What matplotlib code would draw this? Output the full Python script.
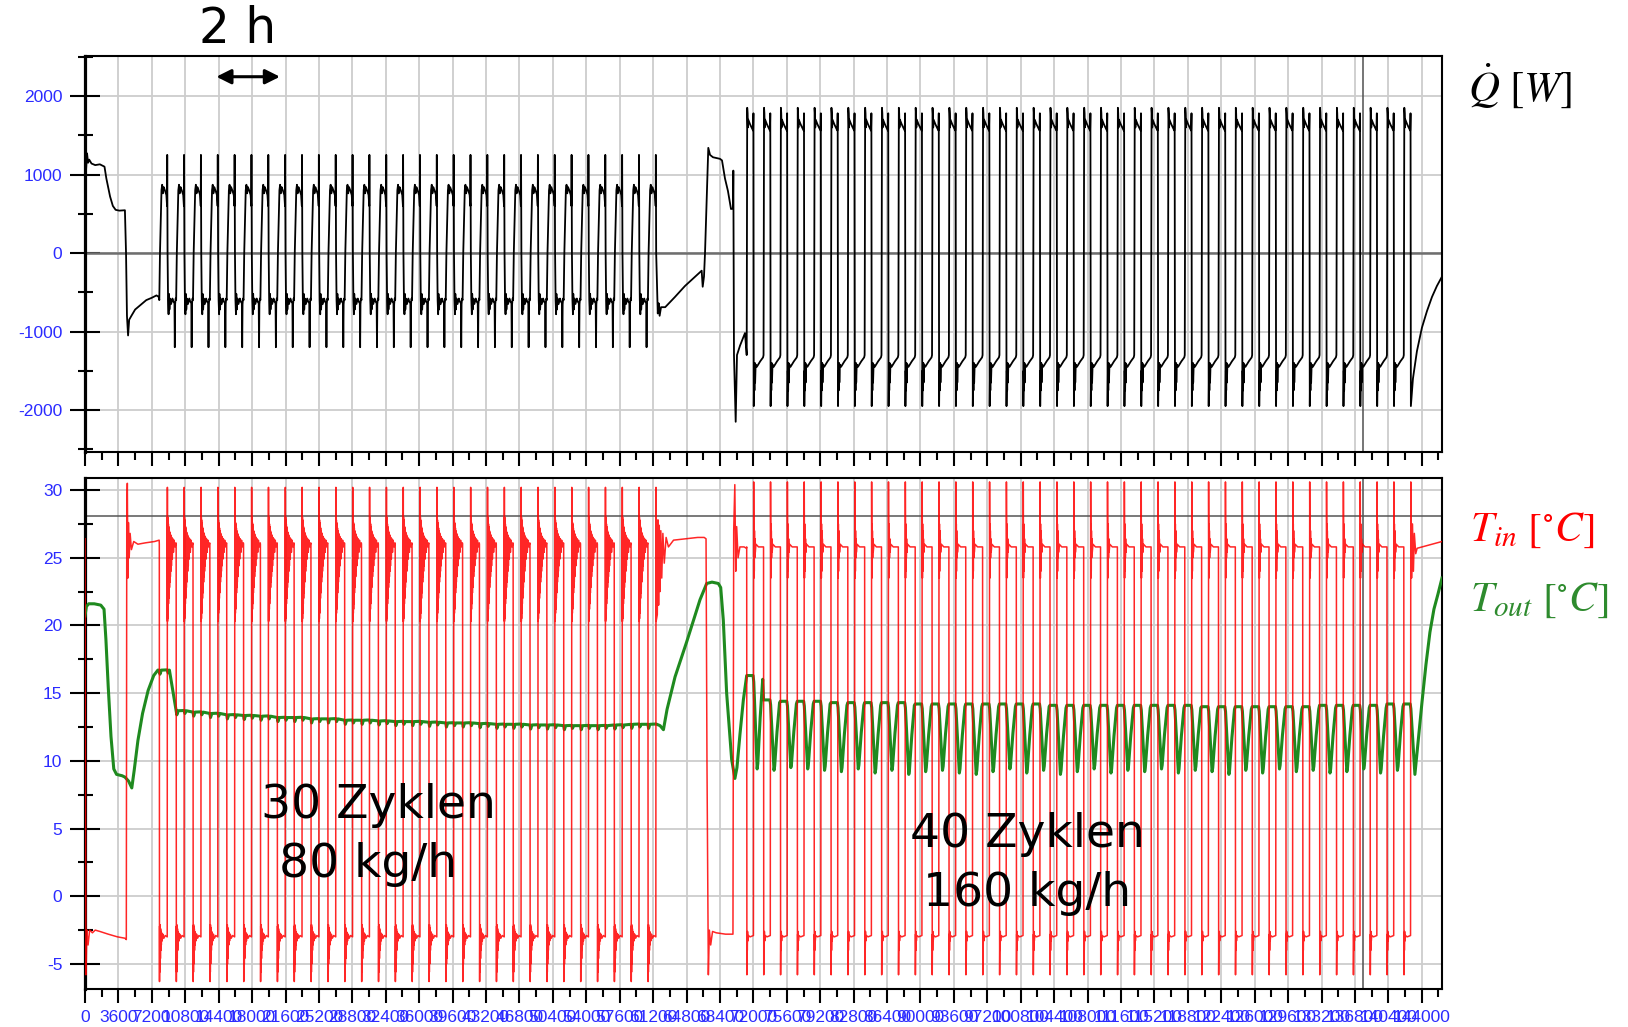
import matplotlib
matplotlib.use('Agg')
import matplotlib.pyplot as plt
import numpy as np

plt.rcParams['font.family'] = ['Liberation Sans', 'DejaVu Sans']
plt.rcParams['mathtext.fontset'] = 'stix'
plt.rcParams['axes.unicode_minus'] = False

# ---------------- data (time in s) ----------------
t_end = 146180
t_cursor = 137670
T_line = 28.1

# start-up before the first cycle series
q0_t = [0, 110, 220, 330, 450, 700, 1100, 1600, 2100, 2300, 2700, 3000, 3300, 3700, 4300,
        4420, 4520, 4640, 4760, 5000, 5400, 6000, 6600, 7200, 7700, 7950]
q0_v = [600, 1050, 1270, 1150, 1190, 1140, 1120, 1130, 1100, 950, 720, 600, 550, 540, 545,
        0, -800, -1050, -850, -800, -720, -660, -600, -570, -540, -560]
ti0_t = [0, 60, 110, 200, 330, 500, 800, 1100, 1600, 2500, 3500, 4300, 4450, 4500, 4560,
         4620, 4680, 4760, 4860, 5000, 5250, 5700, 6500, 7500, 7990]
ti0_v = [26.4, 5, -5.8, -2.5, -3.6, -2.5, -2.7, -2.5, -2.6, -2.8, -3.0, -3.1, -3.2, 28, 30.5,
         23.5, 27.6, 25, 26.8, 25.6, 26.2, 26.0, 26.1, 26.2, 26.3]
to0_t = [0, 150, 400, 1000, 1700, 2050, 2250, 2500, 2800, 3100, 3400, 4000, 4300, 4700, 5040,
         5300, 5700, 6200, 6800, 7400, 7850]
to0_v = [20.7, 21.4, 21.6, 21.6, 21.5, 21.2, 19.0, 15.5, 11.8, 9.4, 9.0, 8.9, 8.8, 8.5, 8.0,
         9.3, 11.5, 13.5, 15.2, 16.3, 16.7]

# 30 cycles, 80 kg/h
t1 = 8004
n1 = 30
period = 1815
cut1 = 0.49
q1_f = [0.00, 0.04, 0.13, 0.17, 0.21, 0.26, 0.33, 0.42, 0.46, 0.47, 0.49, 0.52, 0.55, 0.57,
        0.60, 0.64, 0.70, 0.78, 0.84, 0.90, 0.92, 0.94, 0.97]
q1_v = [-600, 0, 800, 870, 760, 840, 800, 740, 600, 1250, 0, -600, -780, -520,
        -720, -580, -650, -580, -620, -640, -1200, -650, -580]
ti1_f = [0.000, 0.012, 0.020, 0.028, 0.036, 0.045, 0.055, 0.066, 0.078, 0.090, 0.105, 0.12,
         0.14, 0.17, 0.21, 0.27, 0.35, 0.47,
         0.480, 0.487, 0.494, 0.501, 0.508, 0.515, 0.522, 0.530, 0.538, 0.546, 0.555, 0.564,
         0.574, 0.584, 0.595, 0.606, 0.618, 0.630, 0.643, 0.656, 0.670, 0.685, 0.70, 0.72,
         0.74, 0.77, 0.80, 0.84, 0.88, 0.93, 0.99]
ti1_v = [26.0, -6.3, -2.2, -5.6, -2.1, -5.0, -2.3, -4.6, -2.4, -4.0, -2.6, -3.6,
         -2.7, -3.3, -2.8, -3.1, -2.9, -3.0,
         30.2, 20.3, 28.0, 20.5, 27.8, 20.9, 27.6, 21.2, 27.5, 21.6, 27.3, 22.0,
         27.2, 22.4, 27.0, 22.8, 26.9, 23.2, 26.8, 23.6, 26.7, 24.0, 26.6, 24.4,
         26.5, 24.9, 26.4, 25.4, 26.3, 25.8, 26.1]
to1_f = [0.0, 0.04, 0.12, 0.48, 0.52, 0.60]
to1_d = [0.0, -0.3, 0.0, 0.02, -0.2, 0.0]
to1_level = [16.7, 13.7, 13.6, 13.5, 13.4, 13.35, 13.3, 13.2, 13.2, 13.1, 13.1, 13.0, 13.0,
             12.95, 12.9, 12.9, 12.85, 12.8, 12.8, 12.75, 12.7, 12.7, 12.65, 12.65, 12.6,
             12.6, 12.6, 12.65, 12.7, 12.7]

# pause between the two cycle series
iq_t = [61700, 61800, 61900, 62050, 62500, 63550, 64630, 66430, 66540, 66680, 66790, 67143,
        67330, 67650, 68400, 68620, 68940, 69260, 69590, 69800, 69840, 69910, 70094, 70234,
        70560, 71095]
iq_v = [-770, -640, -800, -690, -690, -560, -420, -225, -430, -300, 0, 1340,
        1250, 1220, 1200, 1180, 950, 790, 560, 570, 1050, -1300, -2150, -1300,
        -1180, -1020]
ii_t = [61650, 61720, 61790, 61860, 61940, 62030, 62130, 62250, 62400, 62600, 62850, 63400,
        66000, 66700, 66900, 67000, 67150, 67260, 67400, 67600, 68000, 69000, 69800, 69880,
        70000, 70100, 70200, 70350, 70550, 71000, 71250]
ii_v = [20.8, 27.8, 21.5, 27.4, 22.5, 27.0, 23.5, 26.8, 24.6, 26.5, 25.8, 26.3,
        26.5, 26.5, 26.4, 10, -5.8, -2.5, -3.6, -2.6, -2.7, -2.8, -2.8, 27,
        30.4, 24, 27.3, 25.0, 25.8, 25.8, 25.7]
io_t = [61600, 61950, 62310, 62700, 63560, 64820, 66250, 66970, 67540, 68220, 68480, 68760,
        69120, 69660, 70010, 70230, 70560, 70920]
io_v = [12.7, 12.6, 12.3, 13.8, 16.2, 18.8, 21.9, 23.1, 23.2, 23.1, 22.8, 20.4,
        15.0, 10.1, 8.7, 9.5, 12.0, 14.5]

# 40 cycles, 160 kg/h
t2 = 71280
n2 = 40
cut2 = 0.42
q2_f = [0.00, 0.03, 0.05, 0.07, 0.09, 0.20, 0.38, 0.40, 0.42, 0.44, 0.46, 0.48, 0.50, 0.53,
        0.60, 0.80, 0.97]
q2_v = [-1300, 1850, 1780, 1600, 1700, 1640, 1560, 1780, -1950, -1500, -1750, -1400, -1650,
        -1420, -1450, -1380, -1330]
ti2_f = [0.000, 0.012, 0.025, 0.035, 0.05, 0.07, 0.10, 0.20, 0.40, 0.415, 0.43, 0.44, 0.45,
         0.46, 0.475, 0.49, 0.51, 0.55, 0.70, 0.90, 0.99]
ti2_v = [25.8, -5.8, -2.8, -4.0, -2.6, -3.3, -2.9, -3.0, -2.9, 30.6, 23.5, 27.5, 24.0,
         27.0, 25.0, 26.4, 25.4, 26.0, 25.8, 25.8, 25.8]
to2_f = [0.0, 0.38, 0.42, 0.62, 0.66, 0.80, 0.95]
to2_w = [1.0, 1.0, 0.93, 0.0, 0.06, 0.55, 0.96]
to2_top = [16.3, 14.5, 14.4, 14.4, 14.4, 14.3, 14.3, 14.3, 14.3, 14.3, 14.2, 14.2, 14.2, 14.2,
           14.2, 14.2, 14.2, 14.2, 14.1, 14.1, 14.1, 14.1, 14.1, 14.1, 14.1, 14.1, 14.1, 14.0,
           14.0, 14.0, 14.0, 14.0, 14.0, 14.0, 14.1, 14.1, 14.1, 14.1, 14.2, 14.2]
to2_bot = [9.4, 9.3, 9.5, 9.4, 9.3, 9.2, 9.4, 9.1, 9.3, 9.0, 9.2, 9.3, 9.1, 9.0, 9.2, 9.4,
           9.1, 9.3, 9.0, 9.2, 9.4, 9.1, 9.3, 9.2, 9.4, 9.1, 9.3, 9.2, 9.0, 9.3, 9.1, 9.4,
           9.2, 9.3, 9.1, 9.2, 9.4, 9.1, 9.3, 9.0]

# after the last cycle
eq_t = [143050, 143480, 144020, 144560, 145100, 145630, 146180]
eq_v = [-1600, -1250, -950, -740, -560, -420, -300]
ei_t = [142900, 143000, 143100, 143200, 143350, 143500, 146180]
ei_v = [23.5, 27.5, 24.0, 26.8, 25.3, 25.7, 26.2]
eo_t = [143260, 143590, 144020, 144450, 144880, 145310, 145740, 146180]
eo_v = [9.0, 11.3, 14.3, 17.1, 19.5, 21.2, 22.3, 23.5]


def run_cycles(t0, n, f, vals, cut):
    ts, vs = [], []
    for k in range(n):
        for fi, vi in zip(f, vals(k)):
            if k == n - 1 and fi > cut:
                break
            ts.append(t0 + (k + fi) * period)
            vs.append(vi)
    return ts, vs


def series(parts):
    t = np.concatenate([np.asarray(p[0], float) for p in parts])
    v = np.concatenate([np.asarray(p[1], float) for p in parts])
    return t, v


q_t, q_v = series([(q0_t, q0_v),
                   run_cycles(t1, n1, q1_f, lambda k: q1_v, cut1),
                   (iq_t, iq_v),
                   run_cycles(t2, n2, q2_f, lambda k: q2_v, cut2),
                   (eq_t, eq_v)])
ti_t, ti_v = series([(ti0_t, ti0_v),
                     run_cycles(t1, n1, ti1_f, lambda k: ti1_v, cut1),
                     (ii_t, ii_v),
                     run_cycles(t2, n2, ti2_f, lambda k: ti2_v, cut2),
                     (ei_t, ei_v)])
to_t, to_v = series([(to0_t, to0_v),
                     run_cycles(t1, n1, to1_f, lambda k: [to1_level[k] + d for d in to1_d], cut1),
                     (io_t, io_v),
                     run_cycles(t2, n2, to2_f,
                                lambda k: [to2_bot[k] + w * (to2_top[k] - to2_bot[k]) for w in to2_w],
                                cut2),
                     (eo_t, eo_v)])

# ---------------- figure ----------------
W, H = 1628, 1027
fig = plt.figure(figsize=(W / 100, H / 100), dpi=100)
ax1 = fig.add_axes([85 / W, 1 - 452 / H, 1357 / W, 396 / H])
ax2 = fig.add_axes([85 / W, 1 - 989 / H, 1357 / W, 511 / H])

tick_blue = '#2b2bff'
major_x = np.arange(0, t_end, 3600)
minor_x = np.arange(1800, t_end, 3600)

for ax in (ax1, ax2):
    ax.set_xlim(0, t_end)
    ax.set_xticks(major_x)
    ax.set_xticks(minor_x, minor=True)
    ax.grid(True, which='major', color='#cdcdcd', lw=1.3)
    ax.set_axisbelow(True)
    ax.axvline(t_cursor, color='#505050', lw=1.1, zorder=1.6)
    for s in ax.spines.values():
        s.set_linewidth(1.5)
    ax.spines['left'].set_linewidth(2.3)
    ax.tick_params(axis='x', which='major', direction='out', length=10, width=1.5,
                   pad=5, labelsize=12.5, labelcolor=tick_blue)
    ax.tick_params(axis='x', which='minor', direction='out', length=5.4, width=1.5)
    ax.tick_params(axis='y', which='major', direction='inout', length=21.6, width=1.5,
                   pad=5.5, labelsize=12.5, labelcolor=tick_blue)
    ax.tick_params(axis='y', which='minor', direction='inout', length=10.8, width=1.5)

ax1.set_ylim(-2535, 2510)
ax1.set_yticks([-2000, -1000, 0, 1000, 2000])
ax1.set_yticks(np.arange(-2500, 2501, 500), minor=True)
ax1.tick_params(axis='x', labelbottom=False)
ax1.axhline(0, color='#6e6e6e', lw=1.8, zorder=1.5)
ax1.plot(q_t, q_v, color='black', lw=1.3, zorder=3)

ax2.set_ylim(-6.85, 30.89)
ax2.set_yticks(np.arange(-5, 31, 5))
ax2.set_yticks(np.arange(-5, 31, 2.5), minor=True)
ax2.set_xticklabels([str(int(v)) for v in major_x])
ax2.axhline(T_line, color='#555555', lw=1.1, zorder=1.5)
ax2.plot(to_t, to_v, color='#1f8a1f', lw=2.2, zorder=3)
ax2.plot(ti_t, ti_v, color='#ff0000', lw=1.1, alpha=0.85, zorder=4)

# ---------------- annotations ----------------
fig.text(238 / W, 1 - 29 / H, '2 h', fontsize=35, family='DejaVu Sans',
         ha='center', va='center')
ax1.annotate('', xy=(14150, 2246), xytext=(21000, 2246),
             arrowprops=dict(arrowstyle='<|-|>', color='black', lw=2.2,
                             mutation_scale=22, shrinkA=0, shrinkB=0))

fig.text(1468 / W, 1 - 86 / H, r'$\dot{Q}\ [W]$', fontsize=31, ha='left', va='center')
fig.text(1470 / W, 1 - 530 / H, r'$T_{in}\ [^{\circ}C]$', fontsize=30, color='#ff0000',
         ha='left', va='center')
fig.text(1470 / W, 1 - 600 / H, r'$T_{out}\ [^{\circ}C]$', fontsize=30, color='#2e8b2e',
         ha='left', va='center')

fig.text(378 / W, 1 - 818 / H, '30 Zyklen', fontsize=34, family='DejaVu Sans',
         ha='center', va='baseline')
fig.text(368 / W, 1 - 877 / H, '80 kg/h', fontsize=34, family='DejaVu Sans',
         ha='center', va='baseline')
fig.text(1027 / W, 1 - 847 / H, '40 Zyklen', fontsize=34, family='DejaVu Sans',
         ha='center', va='baseline')
fig.text(1027 / W, 1 - 906 / H, '160 kg/h', fontsize=34, family='DejaVu Sans',
         ha='center', va='baseline')

fig.savefig('out.png', dpi=100)
